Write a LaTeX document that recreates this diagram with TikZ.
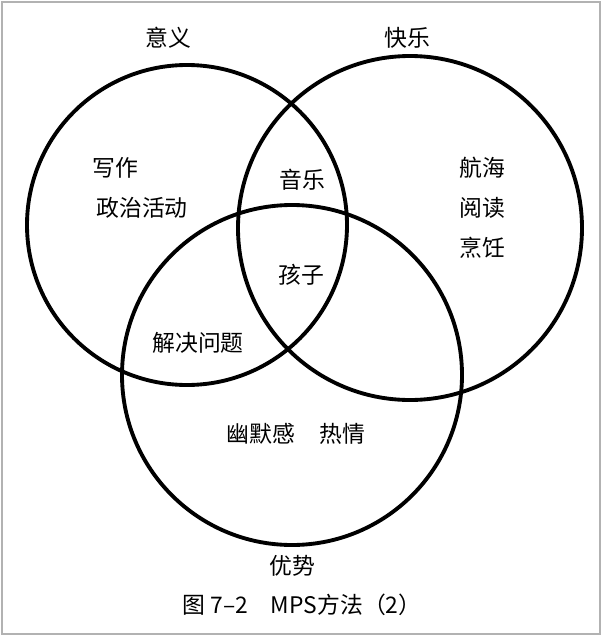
\documentclass[tikz,border=0pt]{standalone}
\usepackage{fontspec}
\newfontfamily\cjk{Noto Sans CJK SC}
\begin{document}
\begin{tikzpicture}[x=0.02cm,y=-0.02cm,
  ring/.style={draw=black,line width=2.2pt},
  lbl/.style={font=\cjk\fontsize{13pt}{17pt}\selectfont,align=left,inner sep=0pt}]
\useasboundingbox (0,0) rectangle (602,636);
\draw[gray!60,line width=0.8pt] (2,2) rectangle (600,634);
\draw[ring] (187,225) circle (160*0.02cm);
\draw[ring] (410,228) circle (172*0.02cm);
\draw[ring] (292,375) circle (170*0.02cm);
\node[lbl] (a) at (168,38) {意义};
\node[lbl] (b) at (407,38) {快乐};
\node[lbl] (c) at (292,566) {优势};
\node[lbl] (d) at (302,605) {图 7–2\quad MPS方法（2）};
\node[lbl] (e) at (115,168) {写作};
\node[lbl] (f) at (142,208) {政治活动};
\node[lbl] (g) at (302,180) {音乐};
\node[lbl] (h) at (301,275) {孩子};
\node[lbl] (i) at (482,168) {航海};
\node[lbl] (j) at (482,208) {阅读};
\node[lbl] (k) at (482,248) {烹饪};
\node[lbl] (l) at (198,343) {解决问题};
\node[lbl] (m) at (261,434) {幽默感};
\node[lbl] (n) at (342,434) {热情};
\end{tikzpicture}
\end{document}
